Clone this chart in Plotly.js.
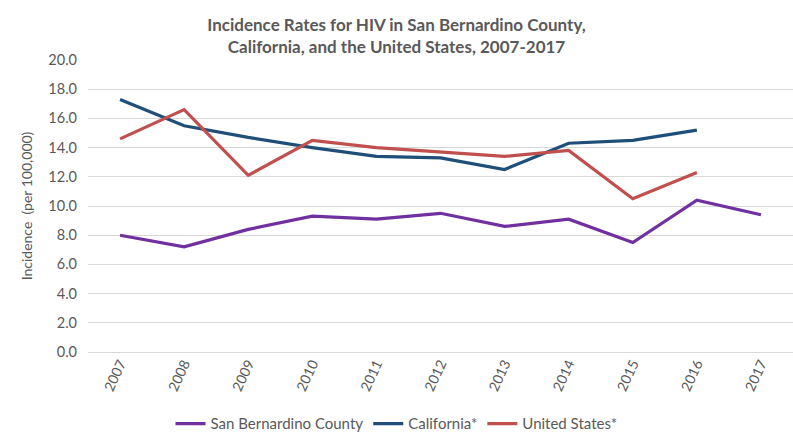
<!DOCTYPE html>
<html>
<head>
<meta charset="utf-8">
<script src="https://cdn.plot.ly/plotly-3.0.1.min.js"></script>
<style>
  html, body { margin: 0; padding: 0; background: #fff; }
  #chart { width: 793px; height: 433px; }
</style>
</head>
<body>
<div id="chart"></div>
<script>
const years = ['2007', '2008', '2009', '2010', '2011', '2012', '2013', '2014', '2015', '2016', '2017'];
const sanBernardino = [8.0, 7.2, 8.4, 9.3, 9.1, 9.5, 8.6, 9.1, 7.5, 10.4, 9.4];
const california = [17.3, 15.5, 14.7, 14.0, 13.4, 13.3, 12.5, 14.3, 14.5, 15.2, null];
const unitedStates = [14.6, 16.6, 12.1, 14.5, 14.0, 13.7, 13.4, 13.8, 10.5, 12.3, null];

const grey = '#595959';
const fontFamily = 'Lato, "Open Sans", sans-serif';

function lineTrace(name, values, color) {
  return {
    x: years,
    y: values,
    name: name,
    type: 'scatter',
    mode: 'lines',
    line: { color: color, width: 3.2 },
    connectgaps: false
  };
}

const traces = [
  lineTrace('San Bernardino County', sanBernardino, '#7030A0'),
  lineTrace('California*', california, '#1F4E79'),
  lineTrace('United States*', unitedStates, '#C0504D')
];

const layout = {
  width: 793,
  height: 433,
  paper_bgcolor: '#fff',
  plot_bgcolor: '#fff',
  font: { family: fontFamily, color: grey, size: 14 },
  margin: { l: 88, r: 0, t: 60, b: 81, autoexpand: false },
  title: {
    text: 'Incidence Rates for HIV in San Bernardino County,<br>California, and the United States, 2007-2017',
    font: { family: fontFamily, size: 17, color: grey, weight: 'bold' },
    x: 0.5,
    xref: 'container',
    yref: 'container',
    y: 0.928,
    yanchor: 'middle'
  },
  xaxis: {
    type: 'category',
    range: [-0.5, 10.5],
    tickangle: -65,
    showgrid: false,
    showline: false,
    zeroline: false,
    ticks: '',
    tickfont: { size: 14, color: grey }
  },
  yaxis: {
    range: [0, 20],
    dtick: 2,
    tickformat: '.1f',
    gridcolor: '#D9D9D9',
    gridwidth: 1,
    zeroline: true,
    zerolinecolor: '#D9D9D9',
    showline: false,
    ticks: '',
    ticklabelstandoff: 10,
    tickfont: { size: 14.5, color: grey },
    title: { text: 'Incidence  (per 100,000)', font: { size: 14, color: grey }, standoff: 12 }
  },
  legend: {
    orientation: 'h',
    xref: 'paper',
    yref: 'paper',
    x: 0.4376,
    xanchor: 'center',
    y: -0.246,
    yanchor: 'middle',
    font: { size: 15, color: grey },
    itemwidth: 30
  },
  showlegend: true
};

Plotly.newPlot('chart', traces, layout, { displayModeBar: false, staticPlot: true });
</script>
</body>
</html>
